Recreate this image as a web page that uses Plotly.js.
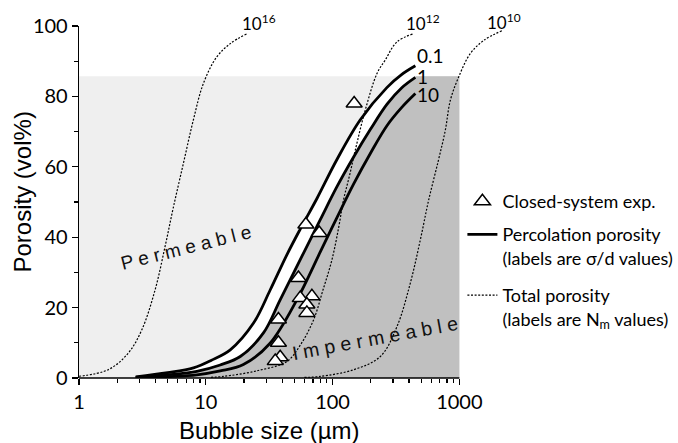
<!DOCTYPE html>
<html>
<head>
<meta charset="utf-8">
<script src="https://cdn.plot.ly/plotly-3.0.1.min.js"></script>
<style>
  html, body { margin: 0; padding: 0; background: #fff; }
  #chart { width: 678px; height: 443px; }
</style>
</head>
<body>
<div id="chart"></div>
<script>
// Percolation porosity curves (labels are sigma/d values)
const percSize01 = [2.8, 5, 8, 11, 15.6, 23.8, 32.2, 43.6, 55.6, 75.3, 108, 165, 268, 350, 450];
const percPor01  = [0.3, 1.5, 2.9, 5.0, 8.0, 15.6, 25.0, 35.0, 42.3, 51.0, 62.0, 73.3, 82.5, 86.2, 88.7];
const percSize1  = [2.8, 5, 8.5, 13, 18.7, 28.5, 38.6, 59, 80, 108, 146.6, 200, 269, 350, 450];
const percPor1   = [0.2, 0.9, 1.9, 3.7, 6.1, 12.8, 22.2, 35.5, 45.0, 54.3, 62.8, 70.8, 77.8, 82.4, 85.4];
const percSize10 = [2.8, 5, 8.5, 13, 19.8, 32, 52.3, 80, 108, 146, 200, 270, 350, 450];
const percPor10  = [0.1, 0.4, 0.9, 2.0, 3.8, 9.8, 22.2, 35.8, 45.5, 55.0, 64.0, 71.8, 76.8, 80.8];

// Total porosity curves (labels are Nm values)
const totSize16 = [1, 1.7, 2.45, 3.13, 3.98, 4.77, 5.55, 6.66, 7.98, 9.58, 12.2, 15.6, 21.1];
const totPor16  = [0.5, 2.35, 7.1, 13.7, 25.0, 37.3, 48.5, 61.0, 73.3, 83.7, 91.2, 95.0, 97.8];
const totSize12 = [11, 13.8, 25, 43.6, 56, 70.8, 84, 98.9, 112, 122, 136, 151, 181, 224, 260, 322, 435];
const totPor12  = [0.2, 0.45, 2.0, 4.7, 9.5, 16.5, 25.0, 33.6, 43.0, 50.6, 57.5, 64.7, 76.1, 86.5, 90.3, 95.5, 97.8];
const totSize10 = [60, 79.8, 146.5, 238, 322, 410, 492, 573, 680, 775, 849, 987, 1222, 1555, 2173];
const totPor10  = [0.15, 0.45, 2.35, 6.1, 14.6, 26.9, 39.2, 50.6, 61.5, 70.4, 78.9, 85.5, 92.2, 95.9, 98.7];

// Closed-system experiments
const expSize = [148, 61.6, 78.5, 53.8, 68.7, 55.6, 62.7, 62.7, 37.4, 37.4, 38.6, 35.3];
const expPor  = [78.0, 43.6, 41.2, 28.4, 23.2, 22.7, 20.9, 18.5, 16.6, 10.0, 5.9, 4.8];

// Curve labels
const percLabels = ['0.1', '1', '10'];
const totLabels = ['10<sup>16</sup>', '10<sup>12</sup>', '10<sup>10</sup>'];

// Shaded permeability field
const fieldTop = 85.7;
const sizeMin = 1, sizeMax = 1000;

const black = '#000';
const lato = 'Lato, "Noto Sans", sans-serif';
const arial = '"Liberation Sans", Arial, sans-serif';
const log10 = Math.log10;

const last = a => a[a.length - 1];

// White band between the sigma/d = 0.1 and 1 curves
const band = {
  x: percSize01.concat(percSize1.slice().reverse()),
  y: percPor01.concat(percPor1.slice().reverse()),
  type: 'scatter', mode: 'lines', fill: 'toself',
  fillcolor: '#ffffff', line: {width: 0, shape: 'spline', smoothing: 1}, hoverinfo: 'skip', showlegend: false
};

// Impermeable field: right of the sigma/d = 1 curve
const impermeable = {
  x: percSize1.concat([last(percSize1), sizeMax, sizeMax, percSize1[0]]),
  y: percPor1.concat([fieldTop, fieldTop, 0, 0]),
  type: 'scatter', mode: 'lines', fill: 'toself',
  fillcolor: '#c0c0c0', line: {width: 0}, hoverinfo: 'skip', showlegend: false
};

function totalTrace(x, y, first) {
  return {
    x: x, y: y, type: 'scatter', mode: 'lines',
    line: {color: black, width: 1.2, dash: '2px,1.6px', shape: 'spline', smoothing: 1},
    name: 'Total porosity<br>(labels are N<sub>m</sub> values)',
    legend: 'legend3', showlegend: first, hoverinfo: 'skip'
  };
}
function percTrace(x, y, first) {
  return {
    x: x, y: y, type: 'scatter', mode: 'lines',
    line: {color: black, width: 2.8, shape: 'spline', smoothing: 1},
    name: 'Percolation porosity<br>(labels are σ/d values)',
    legend: 'legend2', showlegend: first, hoverinfo: 'skip'
  };
}

const experiments = {
  x: expSize, y: expPor, type: 'scatter', mode: 'markers',
  marker: {symbol: 'triangle-up', size: 14, color: '#fff', line: {color: black, width: 1.5}},
  name: 'Closed-system exp.', legend: 'legend', showlegend: true
};

const data = [
  band, impermeable,
  totalTrace(totSize16, totPor16, true),
  totalTrace(totSize12, totPor12, false),
  totalTrace(totSize10, totPor10, false),
  percTrace(percSize01, percPor01, true),
  percTrace(percSize1, percPor1, false),
  percTrace(percSize10, percPor10, false),
  experiments
];

const annotations = [];
// sigma/d labels at the curve ends
[[percSize01, percPor01, 10], [percSize1, percPor1, 1], [percSize10, percPor10, -1]].forEach((c, i) => {
  annotations.push({
    x: log10(last(c[0])), y: last(c[1]), xref: 'x', yref: 'y',
    text: percLabels[i], showarrow: false, xanchor: 'left', yanchor: 'middle',
    xshift: 1, yshift: c[2], borderpad: 0, font: {family: lato, size: 19, color: black}
  });
});
// Nm labels at the curve ends
[[totSize16, totPor16, 12, 11], [totSize12, totPor12, 9, 11], [totSize10, totPor10, 2, 9]].forEach((c, i) => {
  annotations.push({
    x: log10(last(c[0])), y: last(c[1]), xref: 'x', yref: 'y',
    text: totLabels[i], showarrow: false, xanchor: 'center', yanchor: 'middle',
    xshift: c[2], yshift: c[3], font: {family: lato, size: 17, color: black}
  });
});
// Field names
annotations.push({
  x: log10(7.0), y: 37.2, xref: 'x', yref: 'y', text: 'P e r m e a b l e',
  showarrow: false, textangle: -14, font: {family: arial, size: 19, color: '#111'}
});
annotations.push({
  x: log10(217), y: 11.3, xref: 'x', yref: 'y', text: 'I m p e r m e a b l e',
  showarrow: false, textangle: -10.5, font: {family: arial, size: 19.5, color: '#111'}
});
// Axis titles
annotations.push({
  x: 0, y: 0.527, xref: 'paper', yref: 'paper', xshift: -57, text: 'Porosity (vol%)',
  showarrow: false, textangle: -90, xanchor: 'center', yanchor: 'middle',
  font: {family: arial, size: 24, color: black}
});
annotations.push({
  x: 0.4464, y: -0.1495, xref: 'paper', yref: 'paper', text: 'Bubble size (µm)',
  showarrow: false, xanchor: 'center', yanchor: 'middle',
  font: {family: arial, size: 24, color: black}
});

const minorX = [];
[1, 10, 100].forEach(d => { for (let k = 2; k <= 9; k++) minorX.push(k * d); });

const legendBase = {
  xref: 'paper', yref: 'paper', x: 0.9, xanchor: 'left', yanchor: 'top', valign: 'top',
  bgcolor: 'rgba(0,0,0,0)', borderwidth: 0, font: {family: lato, size: 18, color: black}
};

const layout = {
  width: 678, height: 443,
  margin: {l: 79, r: 173.4, t: 25.7, b: 64.7, pad: 0, autoexpand: false},
  paper_bgcolor: '#fff', plot_bgcolor: 'rgba(0,0,0,0)',
  showlegend: true,
  legend: Object.assign({}, legendBase, {y: 0.554}),
  legend2: Object.assign({}, legendBase, {y: 0.460}),
  legend3: Object.assign({}, legendBase, {y: 0.287}),
  xaxis: {
    type: 'log', range: [0, 3.36],
    tickvals: [1, 10, 100, 1000], ticktext: ['1', '10', '100', '1000'],
    ticks: 'outside', ticklen: 6, tickwidth: 1.3, tickcolor: black,
    showline: false, showgrid: false, zeroline: false,
    tickfont: {family: lato, size: 20, color: black},
    minor: {tickvals: minorX, ticks: 'outside', ticklen: 4, tickwidth: 1.2, tickcolor: black, showgrid: false}
  },
  yaxis: {
    range: [0, 100], tick0: 0, dtick: 20,
    ticks: 'outside', ticklen: 6, tickwidth: 1.3, tickcolor: black,
    showline: true, linecolor: black, linewidth: 1.3,
    showgrid: false, zeroline: false,
    tickfont: {family: lato, size: 20, color: black},
    minor: {dtick: 10, ticks: 'outside', ticklen: 4, tickwidth: 1.2, tickcolor: black, showgrid: false}
  },
  shapes: [
    // permeable field background
    {type: 'rect', xref: 'x', yref: 'y', x0: sizeMin, x1: sizeMax, y0: 0, y1: fieldTop,
     fillcolor: '#efefef', line: {width: 0}, layer: 'below'},
    // x axis line, spanning the labelled decades only
    {type: 'line', xref: 'x', yref: 'paper', x0: sizeMin, x1: sizeMax, y0: 0, y1: 0,
     line: {color: black, width: 1.3}, layer: 'above'}
  ],
  annotations: annotations
};

Plotly.newPlot('chart', data, layout, {displayModeBar: false, staticPlot: true});
</script>
</body>
</html>
